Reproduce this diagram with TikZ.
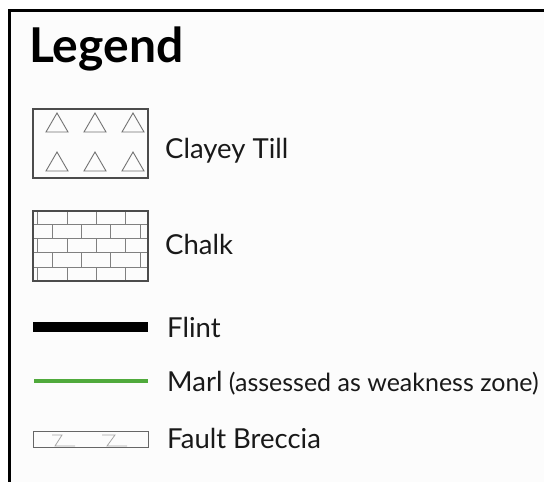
\documentclass[tikz,border=0pt]{standalone}
\usepackage{fontspec}
\setmainfont{Lato}
\begin{document}
\begin{tikzpicture}[x=1pt,y=-1pt,
  lbl/.style={anchor=base west,inner sep=0pt,font=\fontsize{27.5}{27.5}\selectfont,text=black!90},
  patbox/.style={draw=black!70,line width=1.2pt},
  tri/.style={draw=black!55,line width=0.9pt},
  brick/.style={draw=black!50,line width=0.8pt},
  zmark/.style={draw=black!35,line width=0.8pt}]
\useasboundingbox (0,0) rectangle (544,482);
\fill[white] (0,0) rectangle (544,482);
\fill[black!1] (9,10) rectangle (544,482);
\draw[line width=3pt] (9,482) -- (9,10) -- (544,10);
% title
\node[anchor=base west,inner sep=0pt,font=\bfseries\fontsize{48}{48}\selectfont] (title) at (29,62) {Legend};
% Clayey Till
\foreach \cx in {57,95,133}{
  \foreach \ty in {113,152}{
    \draw[tri] (\cx-11,\ty+19) -- (\cx,\ty) -- (\cx+11,\ty+19) -- cycle;
  }
}
\draw[patbox] (33,109) rectangle (148,178);
\node[lbl] (till) at (165,158) {Clayey Till};
% Chalk
\foreach \yy in {224,238,252,267}{\draw[brick] (33,\yy) -- (148,\yy);}
\foreach \ya/\yb in {211/224,238/252,267/281}{
  \foreach \xx in {37,67,96,125}{\draw[brick] (\xx,\ya) -- (\xx,\yb);}
}
\foreach \ya/\yb in {224/238,252/267}{
  \foreach \xx in {52,81,110,140}{\draw[brick] (\xx,\ya) -- (\xx,\yb);}
}
\draw[patbox] (33,211) rectangle (148,281);
\node[lbl] (chalk) at (165,254) {Chalk};
% Flint
\coordinate (f1) at (33,327);
\coordinate (f2) at (148,327);
\draw[line width=10pt] (f1) -- (f2);
\node[lbl] (flint) at (167,337) {Flint};
% Marl
\coordinate (m1) at (34,381);
\coordinate (m2) at (148,381);
\draw[line width=3.5pt,draw={rgb,255:red,80;green,170;blue,60}] (m1) -- (m2);
\node[lbl] (marl) at (167,391) {Marl\fontsize{25}{25}\selectfont\ (assessed as weakness zone)};
% Fault Breccia
\draw[zmark] (52,435) -- (62,435) -- (55,446) -- (75,446);
\draw[zmark] (102,435) -- (115,435) -- (107,446) -- (127,446);
\draw[draw=black!60,line width=1pt] (33,431) rectangle (148,447);
\node[lbl] (breccia) at (167,448) {Fault Breccia};
\end{tikzpicture}
\end{document}
